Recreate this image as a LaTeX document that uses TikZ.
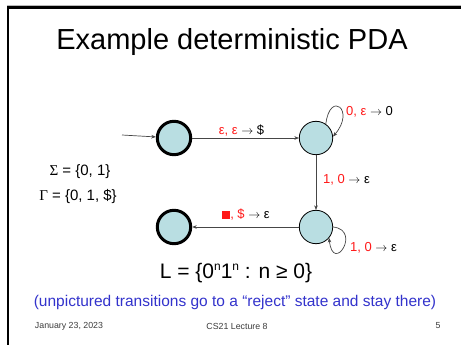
\documentclass[tikz,border=0pt]{standalone}
\usepackage{fontspec}
\setmainfont{Liberation Sans}
\newfontfamily\serifgr{Liberation Serif}
\usetikzlibrary{arrows.meta}
\definecolor{statefill}{RGB}{185,222,226}
\definecolor{edgecol}{RGB}{70,70,70}
\definecolor{lblred}{RGB}{255,25,25}
\definecolor{subblue}{RGB}{51,51,204}
\definecolor{footgray}{RGB}{60,60,60}
\newcommand\rd[1]{\textcolor{lblred}{#1}}
\newcommand\arr{\ensuremath{\rightarrow}}
\newcommand\supn{\raisebox{0.38em}{\fontsize{12}{12}\selectfont n}}
\begin{document}
\begin{tikzpicture}[x=1pt,y=-1pt,
  state/.style={circle, draw=black, fill=statefill, minimum size=33.4pt, inner sep=0pt, line width=0.8pt},
  accept/.style={state, line width=3pt},
  edge/.style={draw=edgecol, line width=0.7pt, -{Stealth[length=4.5pt,width=3.6pt]}},
  lbl/.style={font=\fontsize{13}{15}\selectfont, inner sep=0pt},
  txt/.style={inner sep=0pt}
]
\useasboundingbox (0,0) rectangle (461,345);
\fill[white] (0,0) rectangle (461,345);
% slide frame
\draw[gray!55, line width=1pt] (7,5.6) -- (461,5.6);
\draw[black, line width=2.6pt] (8,345) -- (8,7.6) -- (461,7.6);

% title
\node[txt, font=\fontsize{29}{34}\selectfont] (title) at (232,42) {Example deterministic PDA};

% states
\node[accept] (q1) at (174,138) {};
\node[state]  (q2) at (316,138) {};
\node[state]  (q3) at (316,227) {};
\node[accept] (q4) at (174,227) {};
\coordinate (start) at (122,135);

% transitions
\draw[edge] (start) -- (q1);
\draw[edge] (q1) -- (q2);
\draw[edge] (q2) -- (q3);
\draw[edge] (q3) -- (q4);
\draw[edge] (q2.55) .. controls (330,90) and (356,110) .. (q2.5);
\draw[edge] (q3.0) .. controls (362,230) and (333,275) .. (q3.-40);

% labels
\node[lbl] (l12) at (241.5,131) {\rd{ε, ε} \arr\ \$};
\node[lbl, anchor=west] (l22) at (346,112) {\rd{0, ε} \arr\ 0};
\node[lbl, anchor=west] (l23) at (323,180) {\rd{1, 0} \arr\ ε};
\node[lbl, anchor=west] (l33) at (350,248) {\rd{1, 0} \arr\ ε};
\node[lbl] (l34) at (246,215) {\textcolor{lblred}{\rule{8pt}{8pt}}\rd{, \$} \arr\ ε};

% alphabets
\node[txt, font=\fontsize{15}{18}\selectfont] (sigma) at (80,172) {{\serifgr Σ} = \{0, 1\}};
\node[txt, font=\fontsize{15}{18}\selectfont] (gamma) at (78,197) {{\serifgr Γ} = \{0, 1, \$\}};

% language
\node[txt, font=\fontsize{21}{24}\selectfont] (lang) at (236,273) {L = \{0\supn1\supn\ : n ≥ 0\}};

% note
\node[txt, font=\fontsize{15.5}{18}\selectfont, text=subblue] (note) at (235,302) {(unpictured transitions go to a “reject” state and stay there)};

% footer
\node[txt, font=\fontsize{8.8}{10}\selectfont, text=footgray] (date) at (69,326) {January 23, 2023};
\node[txt, font=\fontsize{8.8}{10}\selectfont, text=footgray] (course) at (237,326) {CS21 Lecture 8};
\node[txt, font=\fontsize{8.8}{10}\selectfont, text=footgray] (page) at (438,326) {5};
\end{tikzpicture}
\end{document}
